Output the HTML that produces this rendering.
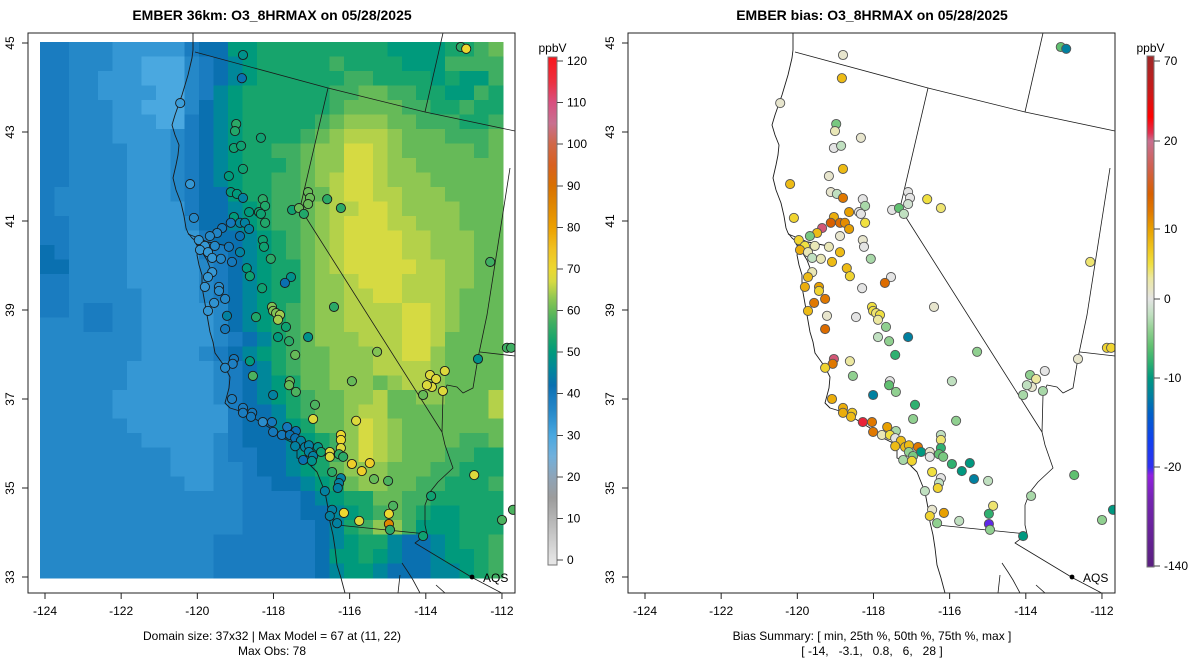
<!DOCTYPE html>
<html><head><meta charset="utf-8"><title>EMBER O3_8HRMAX</title>
<style>
html,body{margin:0;padding:0;background:#fff;}
svg{display:block;font-family:"Liberation Sans",Arial,sans-serif;}
</style></head>
<body>
<svg id="chart" width="1200" height="672" viewBox="0 0 1200 672" xmlns="http://www.w3.org/2000/svg">
<defs>
<clipPath id="clipL"><rect x="28" y="33" width="487" height="560"/></clipPath>
<clipPath id="clipR"><rect x="628" y="33" width="487" height="560"/></clipPath>
</defs>
<text x="272" y="20" text-anchor="middle" font-size="14" font-weight="bold">EMBER 36km: O3_8HRMAX on 05/28/2025</text>
<text x="872" y="20" text-anchor="middle" font-size="14" font-weight="bold">EMBER bias: O3_8HRMAX on 05/28/2025</text>
<g id="leftPanel"></g>
<g id="rightPanel"></g>
<text x="272" y="640" text-anchor="middle" font-size="12">Domain size: 37x32 | Max Model = 67 at (11, 22)</text>
<text x="272" y="655" text-anchor="middle" font-size="12">Max Obs: 78</text>
<text x="872" y="640" text-anchor="middle" font-size="12">Bias Summary: [ min, 25th %, 50th %, 75th %, max ]</text>
<text x="872" y="655" text-anchor="middle" font-size="12" xml:space="preserve">[ -14,   -3.1,   0.8,   6,   28 ]</text>
</svg>
<script>
// ---------- data ----------
const xTicks = [-124,-122,-120,-118,-116,-114,-112];
const yTicks = [33,35,37,39,41,43,45];
const codeVals = {A:30,B:33,C:36,D:39,E:42,F:46,G:50,H:53,I:57,J:60,K:63,L:65,M:67};
const gridRows = [
"DDCCCBBBBBDEEGGHHHHHHHHHGGGGHHIJ",
"DDCCCBBAAACDEFGHHHHHIHHHHGGGIIII",
"DDCCBBBAAACDEFGHHHHHHIIHHHHGHGGI",
"DDCCBBBBAACDFGHHHHHHIIJJIIHHGGIH",
"DDCCCBBAAACEFGHHHHHHIJJJJIIHHIHH",
"DDCCCBBBAADEFGHHHHHIJKKKJJIIIHHI",
"DDCCCBBBBCDEFGHHHHIJKLLLKJJJIIIJ",
"DDCCCCBBBCDEFGHHIIJKKMMLKJJJJJIJ",
"DDCCCCBBBCDEFGHHHIJKKMMLKKJJJJJJ",
"DDCCCCBBBCDEFGHHIIJKLMMLKKKJJJJJ",
"DCCCCCBBBCDEEGHHIIJJLMMLLKKKJJJJ",
"DCCCCCBBBBDEEFGHIIJKLLMMLKKKKJJJ",
"DDCCCCBBBBCEEFGHIIJKLMMMLLKKKJJJ",
"DDCCCCBBBBBDEEFGHIJKLMMMMLLKKKJJ",
"EDCCCCBBBBBDDEFGHIJKLMMMMLLKKKJJ",
"EECCCCBBBBBCDEFGHHJKLMMMMMLLKKJJ",
"DDCCCCBBBBBCDEFGHHJKKLMMMLLLKKJJ",
"DDCCCCCBBBBCDEFGHHJKKLLMMLLLKJJJ",
"DDCDDCCBBBBBCEFGHIJKKLLLLMMLKJJJ",
"CCCDDCCBBBBBCEFGHIJKKLLLLMMLKJJJ",
"CCCCCCCBBBBBCDEFHIJKKKLLLMMLJJJJ",
"CCCCCCCBBBBCDEFGHIJJKKKLLMMKJJJJ",
"CCCCCCBBBBBBCDEFHIJJKKKLLLLKJJJJ",
"CCCCCCBBBBBBCDEFGHJJKKKJKLLKJJJJ",
"CCCCCBBBBBBBCDEFGHIJJKKLJJKKJJJL",
"CCCCCBBBBBBBBDEEFHIJJKLLJJJJJJJL",
"CCCCCCBBBBBBBDEEFGHJJKMLKJJJJJJJ",
"CCCCCCCBBBBBCDEEEFGHIKMLKJJJJIIJ",
"CCCCCCCCCBBBCDDEEFGHIKMLKJJJIIHH",
"CCCCCCCCCBBBCCDEEFGHJKKKJJJIIHHH",
"CCCCCCCCCCBBCCDDEEFGHJKKJJIIHHHI",
"CCCCCCCCCCCCCCDDDDEFGHHJJIIHHHHH",
"CCCCCCCCCCCCCCDDDDEEFGHIJIHGGHHH",
"CCCCCCCCCCCCCCDDDDDEFHIKKIGGGHHH",
"CCCCCCCCCCCCDDDDDDDEFGHHFEEFGHHI",
"CCCCCCCCCCCCDDDDDDDEGGHGFEEFGGHI",
"CCCCCCCCCCCCDDDDDDDEFGGFEEEFFGHI"
];
const stLon = [-118.80,-118.83,-120.45,-118.98,-119.01,-118.33,-119.04,-118.85,-118.80,-119.17,-120.19,-119.12,-118.96,-118.80,-118.28,-118.22,-118.38,-118.33,-118.64,-119.04,-118.22,-120.09,-119.12,-118.88,-118.75,-118.64,-119.35,-119.48,-119.67,-118.88,-119.96,-119.80,-119.93,-119.72,-119.54,-119.17,-118.88,-118.28,-118.25,-119.61,-119.38,-119.09,-118.07,-119.61,-119.72,-118.70,-118.62,-117.54,-117.70,-119.80,-119.43,-119.43,-119.27,-118.30,-119.56,-119.72,-119.22,-118.46,-118.04,-118.01,-117.93,-117.83,-116.41,-117.09,-117.04,-117.09,-117.51,-117.33,-117.20,-116.59,-116.23,-112.31,-113.08,-112.94,-117.88,-119.27,-117.67,-117.88,-117.59,-117.09,-117.43,-115.28,-119.04,-119.07,-119.27,-118.62,-118.54,-117.57,-117.59,-117.41,-115.94,-118.01,-119.09,-116.91,-118.80,-118.80,-118.56,-118.59,-118.28,-118.04,-116.96,-115.83,-118.01,-117.64,-117.41,-117.78,-117.57,-117.43,-117.28,-117.43,-117.17,-117.07,-116.83,-117.07,-116.96,-116.75,-117.22,-116.99,-116.52,-116.52,-116.23,-116.23,-116.23,-116.28,-116.17,-115.94,-115.68,-115.47,-115.36,-114.99,-116.46,-116.23,-116.28,-116.31,-116.65,-114.86,-114.97,-116.15,-116.46,-116.52,-116.33,-115.75,-114.97,-114.94,-114.07,-113.86,-112.73,-112.00,-111.71,-112.63,-111.87,-111.76,-113.89,-113.73,-113.84,-113.97,-114.07,-113.55,-113.50];
const stLat = [44.73,44.21,43.65,43.18,43.02,42.87,42.64,42.69,42.17,42.01,41.83,41.65,41.61,41.52,41.49,41.34,41.20,41.16,41.20,41.09,40.96,41.07,40.96,40.96,40.96,40.82,40.84,40.73,40.66,40.66,40.57,40.44,40.35,40.30,40.44,40.42,40.30,40.57,40.42,40.17,40.15,40.08,40.15,39.85,39.74,39.94,39.76,39.74,39.61,39.52,39.52,39.43,39.25,39.49,39.16,38.98,38.87,38.84,39.07,38.98,38.93,38.89,39.07,41.65,41.52,41.38,41.25,41.29,41.16,41.49,41.29,40.08,44.91,44.87,38.78,38.57,38.62,38.39,38.30,38.39,37.99,38.06,37.90,37.79,37.70,37.85,37.52,37.40,37.31,37.16,37.40,37.09,37.00,36.87,36.80,36.69,36.69,36.60,36.48,36.48,36.55,36.51,36.26,36.37,36.28,36.19,36.19,36.12,36.06,35.94,35.92,35.96,35.92,35.81,35.72,35.81,35.63,35.61,35.81,35.70,36.19,36.08,35.90,35.76,35.70,35.54,35.38,35.56,35.20,35.16,35.36,35.22,35.11,35.00,34.93,34.60,34.42,34.44,34.51,34.37,34.21,34.26,34.19,34.06,33.92,34.82,35.29,34.28,34.51,37.90,38.15,38.15,37.54,37.45,37.27,37.31,37.09,37.18,37.63];
const stObs = [48,42,32,55,54,52,52,52,52,50,33,50,50,45,55,54,52,52,50,50,54,36,40,45,45,45,40,37,36,42,33,33,33,33,36,40,45,52,52,33,36,40,55,33,33,50,52,48,42,33,35,35,36,52,34,33,45,54,62,62,62,64,55,60,60,60,52,60,54,55,55,57,55,70,64,40,52,50,55,48,60,62,40,38,36,50,58,60,60,58,60,45,38,58,39,39,40,40,35,40,68,68,40,40,42,40,42,42,45,45,45,45,48,45,45,52,42,48,68,68,70,70,68,55,55,72,72,72,60,58,55,45,45,45,45,58,70,70,45,45,45,68,85,55,52,52,68,58,58,48,57,57,68,68,68,68,60,68,68];
const stBias = [1,8,1,-5,2,1,0,-2,8,1,8,1,-2,12,0,-3,0,0,10,9,5,6,14,13,11,10,22,8,-5,1,6,5,9,2,2,2,8,1,0,-2,2,8,-3,2,8,8,6,0,13,9,10,6,12,0,12,8,1,0,5,5,4,5,1,0,0,-1,0,-6,-2,5,4,4,-6,-12,3,13,-4,-2,-4,-12,-8,-4,22,12,6,3,-4,0,-6,-4,-2,-12,9,-8,9,9,7,8,28,12,-4,-4,12,10,-3,2,5,0,8,8,8,8,12,-4,-5,-10,-3,6,1,0,-2,4,-8,-6,-5,-8,-10,-10,-12,-2,5,0,-2,6,-2,4,-8,10,1,6,-4,-2,-25,-4,-10,-3,-6,-4,-10,1,6,6,-4,3,1,-2,-3,-3,0];
const obsBarTicks = [0,10,20,30,40,50,60,70,80,90,100,110,120];
const biasBarTicks = [-140,-20,-10,0,10,20,70];

// ---------- scales / config ----------
const NS = "http://www.w3.org/2000/svg";
const BOX = {x:28, y:33, w:487, h:560};
function sx(lon, ox){ return ox + 45 + (lon + 124) * 38.08; }
function sy(lat){ return 43 + (45 - lat) * 44.5; }
const gLon0 = -124.131, gDLon = 0.380, gLat0 = 45.022, gDLat = 0.3256;
function obsBarY(v){ return 560 - v * 4.158; }
const biasBarPos = [566, 467, 378, 299, 229, 141, 61];
function biasBarY(v){
  const t = biasBarTicks;
  if (v <= t[0]) return biasBarPos[0];
  for (let i=0;i<t.length-1;i++){ if (v<=t[i+1]) return biasBarPos[i] + (v-t[i])/(t[i+1]-t[i])*(biasBarPos[i+1]-biasBarPos[i]); }
  return biasBarPos[t.length-1];
}
function biasFromY(y){
  for (let i=0;i<biasBarPos.length-1;i++){
    if (y<=biasBarPos[i] && y>=biasBarPos[i+1]) return biasBarTicks[i] + (y-biasBarPos[i])/(biasBarPos[i+1]-biasBarPos[i])*(biasBarTicks[i+1]-biasBarTicks[i]);
  }
  return y>biasBarPos[0]?biasBarTicks[0]:biasBarTicks[biasBarTicks.length-1];
}
const obsStops = [[-2,'#e8e8e8'],[0,'#e4e4e4'],[10,'#b4b4b4'],[15,'#9c9c9c'],[20,'#8ea4b8'],[25,'#70b0dc'],[30,'#4aa8e0'],[33,'#3597d4'],[36,'#2588c8'],[39,'#1a7cc0'],[42,'#0a70b0'],[46,'#00879a'],[50,'#009a7c'],[53,'#17a46c'],[57,'#3fae62'],[60,'#66ba58'],[63,'#8fc752'],[65,'#b4d14a'],[67,'#d6da42'],[70,'#ecd830'],[75,'#f0c020'],[80,'#eca000'],[85,'#e08800'],[90,'#d87000'],[95,'#d86020'],[100,'#d06848'],[105,'#c87090'],[110,'#d85080'],[115,'#ec3040'],[124,'#ff0808']];
const biasStops = [[-140,'#5a2080'],[-60,'#7424b0'],[-30,'#9020e0'],[-20,'#3030f0'],[-17,'#1040f0'],[-14,'#0060c8'],[-12,'#0080a0'],[-10,'#009880'],[-8,'#30b070'],[-6,'#60c070'],[-4,'#90d090'],[-2,'#c0e0c0'],[0,'#e4e4e4'],[3,'#ece8a0'],[5,'#f0e040'],[7,'#f0c820'],[10,'#e8a000'],[12,'#e07800'],[14,'#d86000'],[17,'#d06050'],[20,'#c87090'],[25,'#e03050'],[35,'#ff0000'],[50,'#cc1818'],[72,'#a02828']];
function hex(h){ return [parseInt(h.substr(1,2),16),parseInt(h.substr(3,2),16),parseInt(h.substr(5,2),16)]; }
function cmap(stops, v){
  if (v<=stops[0][0]) return stops[0][1];
  for (let i=0;i<stops.length-1;i++){
    if (v<=stops[i+1][0]){
      const t=(v-stops[i][0])/(stops[i+1][0]-stops[i][0]);
      const a=hex(stops[i][1]), b=hex(stops[i+1][1]);
      return 'rgb('+a.map((c,k)=>Math.round(c+(b[k]-c)*t)).join(',')+')';
    }
  }
  return stops[stops.length-1][1];
}
function mk(tag, attrs, parent){
  const e=document.createElementNS(NS,tag);
  for (const k in attrs) e.setAttribute(k, attrs[k]);
  parent.appendChild(e); return e;
}
const coast = [[193,33],[193,50],[192,58],[188,75],[182,95],[175,115],[172,125],[175,135],[179,145],[178,155],[176,165],[173,178],[176,190],[181,203],[184,216],[186,228],[188,233],[192,238],[197,242],[199,248],[197,255],[199,265],[202,275],[202,287],[204,298],[210,332],[213,342],[215,353],[225,367],[230,377],[229,388],[225,403],[230,408],[243,412],[257,420],[270,428],[283,438],[297,445],[297,458],[307,462],[317,472],[325,492],[328,508],[330,522],[333,535],[335,548],[337,565],[341,578],[345,593]];
const bay = [[[188,234],[198,238],[208,242],[218,244],[228,246]],[[196,244],[202,252],[207,260],[210,268]],[[199,248],[206,246]]];
const borders = [
 [[195,52],[328,88],[425,112],[515,131]],
 [[443,33],[425,112]],
 [[328,88],[300,208],[442,432],[445,445],[453,468],[438,482],[430,492],[425,505],[425,525],[427,534],[415,543],[473,578],[515,600]],
 [[337,525],[427,534]],
 [[510,168],[487,315],[478,358],[473,388],[463,393],[457,387],[447,385],[443,395],[442,432]],
 [[480,352],[515,356]],
 [[402,563],[408,572],[413,580],[420,593]],
 [[400,575],[398,593]],
 [[436,585],[445,593]]
];

function drawPanel(g, ox, clipId, isBias){
  const clip = mk('g', {'clip-path':'url(#'+clipId+')'}, g);
  
  
  if (!isBias){
    const grid = mk('g', {'shape-rendering':'crispEdges'}, clip);
    
    
    gridRows.forEach((row, r)=>{
      for (let c=0;c<32;c++){
        const ch = row[c] || row[row.length-1];
        const v = codeVals[ch];
        const x0 = sx(gLon0 + c*gDLon, ox), x1 = sx(gLon0 + (c+1)*gDLon, ox);
        const y0 = sy(gLat0 - r*gDLat), y1 = sy(gLat0 - (r+1)*gDLat);
        const cell = mk('rect', {x:x0.toFixed(2), y:y0.toFixed(2), width:(x1-x0+0.4).toFixed(2), height:(y1-y0+0.4).toFixed(2), fill:cmap(obsStops, v)}, grid);
        
        
      }
    });
  }
  const lines = mk('g', {fill:'none', stroke:'#1a1a1a', 'stroke-width':'0.9', 'stroke-linejoin':'round'}, clip);
  
  
  const pts = a => a.map(p=>(p[0]+ox)+','+p[1]).join(' ');
  const cl = mk('polyline', {points:pts(coast)}, lines);
  
  
  bay.forEach(b=>{ const e=mk('polyline',{points:pts(b)},lines);
    
     });
  borders.forEach(b=>{ const e=mk('polyline',{points:pts(b), 'stroke-width':'0.8'},lines);
    
     });
  const sg = mk('g', {}, clip);
  
  
  for (let i=0;i<stLon.length;i++){
    const col = isBias ? cmap(biasStops, stBias[i]) : cmap(obsStops, stObs[i]);
    const c = mk('circle', {cx:sx(stLon[i],ox).toFixed(1), cy:sy(stLat[i]).toFixed(1), r:4.6, fill:col, stroke:isBias?'#555':'#1a1a1a', 'stroke-width':'0.9'}, sg);
    
    
  }
  const aq = mk('circle', {cx:472+ox, cy:577, r:2.4, fill:'#000'}, g);
  
  
  const at = mk('text', {x:483+ox, y:582, 'font-size':12}, g); at.textContent='AQS';
  
  
  const fr = mk('rect', {x:BOX.x+ox, y:BOX.y, width:BOX.w, height:BOX.h, fill:'none', stroke:'#222', 'stroke-width':1}, g);
  
  
  const xa = mk('g', {}, g);
  
  
  xTicks.forEach(t=>{
    const x = sx(t, ox);
    mk('line', {x1:x, x2:x, y1:BOX.y+BOX.h, y2:BOX.y+BOX.h+6, stroke:'#222'}, xa);
    const tl = mk('text', {x:x, y:615, 'text-anchor':'middle', 'font-size':12}, xa);
    tl.textContent = t;
    
    
  });
  const ya = mk('g', {}, g);
  
  
  yTicks.forEach(t=>{
    const y = sy(t);
    mk('line', {x1:BOX.x+ox-6, x2:BOX.x+ox, y1:y, y2:y, stroke:'#222'}, ya);
    const tl = mk('text', {x:14+ox, y:y, 'text-anchor':'middle', 'font-size':12, transform:'rotate(-90 '+(14+ox)+' '+y+')'}, ya);
    tl.textContent = t;
    
    
  });
  const cb = mk('g', {'shape-rendering':'crispEdges'}, g);
  
  
  const bx = isBias ? 1147 : 548, bw = isBias ? 7 : 9;
  const top = isBias ? 56 : 57, bot = isBias ? 567 : 565;
  for (let y=top; y<bot; y++){
    const v = isBias ? biasFromY(y+0.5) : (560 - (y+0.5))/4.158;
    mk('rect', {x:bx, y:y, width:bw, height:1.2, fill:isBias?cmap(biasStops,v):cmap(obsStops,v)}, cb);
  }
  mk('rect', {x:bx, y:top, width:bw, height:bot-top, fill:'none', stroke:'#777', 'stroke-width':0.8}, cb);
  const ticks = isBias ? biasBarTicks : obsBarTicks;
  ticks.forEach(t=>{
    const y = isBias ? biasBarY(t) : obsBarY(t);
    mk('line', {x1:bx+bw, x2:bx+bw+6, y1:y, y2:y, stroke:'#444'}, cb);
    const tl = mk('text', {x:bx+bw+10, y:y+4, 'font-size':12}, cb);
    tl.textContent = t;
    
    
  });
  const un = mk('text', {x:bx+bw/2, y:52, 'text-anchor':'middle', 'font-size':12}, g);
  un.textContent = 'ppbV';
  
  
}
drawPanel(document.getElementById('leftPanel'), 0, 'clipL', false);
drawPanel(document.getElementById('rightPanel'), 600, 'clipR', true);
</script>
</body></html>
